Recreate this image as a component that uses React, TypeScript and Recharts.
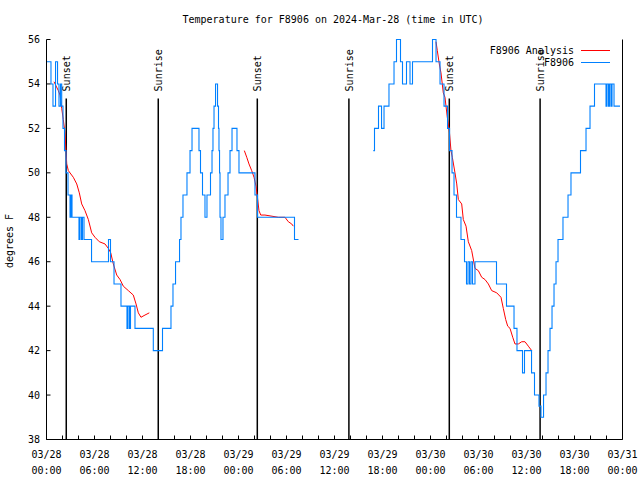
import { LineChart, Line, XAxis, YAxis, ReferenceLine, Legend } from "recharts";

// hours since 03/28 00:00 UTC; observed temps hold until the next change (null = no data)
const blueHours = [
  0, 0.56, 0.81, 1.13, 1.38, 1.56, 1.75, 1.9, 2.06, 2.25, 2.44, 2.69, 2.94, 3.06, 3.19, 4.06, 4.19, 4.38, 4.5, 4.69,
  5.63, 7.75, 8.0, 8.44, 9.31, 10.06, 10.19, 10.38, 10.5, 11.06, 13.35, 14.5, 15.56, 15.81, 16.13, 16.63, 16.81,
  17.06, 17.56, 17.94, 18.19, 19.06, 19.25, 19.5, 19.81, 20.06, 20.5, 20.69, 20.81, 20.94, 21.13, 21.38, 21.5,
  21.56, 21.63, 21.69, 21.81, 22.06, 22.31, 22.69, 22.94, 23.19, 23.81, 24.06, 26.06, 26.38, 31.0, 31.5,
  36,
  40.85, 41.0, 41.5, 41.88, 42.19, 42.81, 43.44, 43.75, 44.25, 44.5, 45.0, 45.44, 45.75, 48.25, 48.69, 49.19,
  49.69, 50.13, 50.38, 50.69, 50.94, 51.25, 51.81, 52.25, 52.5, 52.69, 52.88, 53.06, 53.25, 53.56, 56.25, 57.5,
  58.44, 58.81, 59.5, 59.75, 60.63, 61.0, 61.56, 61.81, 62.13, 62.44, 62.69, 62.94, 63.19, 63.44, 63.69, 63.94,
  64.56, 65.19, 65.56, 66.75, 67.44, 67.94, 68.5, 69.94, 70.06, 70.25, 70.38, 70.56, 70.69, 70.94, 71.69,
];
const blueTemps = [
  55, 54, 53, 55, 54, 53, 54, 53, 52, 51, 50, 49, 48, 49, 48, 47, 48, 47, 48, 47,
  46, 47, 46, 45, 44, 43, 44, 43, 44, 43, 42, 43, 44, 45, 46, 47, 48,
  49, 50, 51, 52, 51, 50, 49, 48, 49, 50, 51, 52, 53, 54, 53, 52,
  51, 50, 48, 47, 48, 49, 50, 51, 52, 51, 50, 49, 48, 47, 47,
  null,
  51, 52, 53, 52, 53, 54, 55, 56, 55, 54, 55, 54, 55, 56, 55, 54,
  53, 52, 51, 50, 49, 48, 47, 46, 45, 46, 45, 46, 45, 46, 45, 44,
  43, 42, 41, 42, 41, 40, 39.5, 39, 40, 41, 42, 43, 44, 45, 46, 47,
  48, 49, 50, 51, 52, 53, 54, 53, 54, 53, 54, 53, 54, 53, 53,
];

// analysis
const redHours = [
  0.94, 1.48, 1.69, 1.9, 2.1, 2.31, 2.53, 2.73, 3.35, 3.78, 4.1, 4.4, 4.81, 5.23, 5.65, 6.06, 6.6, 7.31, 7.73,
  8.03, 8.35, 8.78, 9.19, 9.6, 10.23, 10.85, 11.19, 11.48, 11.81, 12.31, 12.85,
  18,
  24.73, 25.03, 25.31, 25.65, 25.94, 26.19, 26.4, 26.56, 26.78, 27.31, 28.98, 29.81, 30.23, 30.65, 30.85,
  40,
  48.69, 48.85, 49.1, 49.31, 49.6, 49.81, 50.1, 50.35, 50.56, 50.73, 51.06, 51.28, 51.48, 51.9, 52.1, 52.44,
  52.73, 53.15, 53.56, 53.98, 54.4, 54.81, 55.23, 55.65, 56.28, 56.81, 57.1, 57.4, 57.65, 57.94, 58.28, 58.56,
  58.98, 59.4, 59.81, 60.23, 60.65,
];
const redTemps = [
  54.1, 53.7, 53.5, 52.9, 52.4, 51.8, 50.4, 50.1, 49.8, 49.5, 49.1, 48.6, 48.3, 47.9, 47.3, 47.1, 46.9, 46.8, 46.6,
  46.4, 45.9, 45.4, 45.2, 44.9, 44.7, 44.5, 44.1, 43.7, 43.5, 43.6, 43.7,
  null,
  51.0, 50.7, 50.4, 50.1, 49.8, 49.4, 48.8, 48.3, 48.1, 48.1, 48.0, 48.0, 47.8, 47.7, 47.6,
  null,
  55.9, 55.5, 54.9, 54.5, 53.6, 53.4, 52.5, 51.9, 51.0, 50.7, 50.0, 49.5, 48.8, 48.6, 47.9, 47.6,
  46.9, 46.5, 45.7, 45.6, 45.3, 45.2, 45.0, 44.7, 44.6, 44.4, 43.9, 43.4, 43.1, 43.0, 42.6, 42.3,
  42.3, 42.4, 42.4, 42.2, 42.0,
];

const sunHours = [2.47, 13.97, 26.35, 37.8, 50.35, 61.7];
const sunLabels = ["Sunset", "Sunrise", "Sunset", "Sunrise", "Sunset", "Sunrise"];

const xTicks = [0, 2, 4, 6, 8, 10, 12, 14, 16, 18, 20, 22, 24, 26, 28, 30, 32, 34, 36, 38, 40, 42, 44, 46, 48, 50, 52, 54, 56, 58, 60, 62, 64, 66, 68, 70, 72];
const yTicks = [38, 40, 42, 44, 46, 48, 50, 52, 54, 56];

const blueData = blueHours.map((h, i) => ({ h, t: blueTemps[i] }));
const redData = redHours.map((h, i) => ({ h, t: redTemps[i] }));

const FONT = "'DejaVu Sans Mono', monospace";
const BLUE = "#0080ff";
const RED = "#ff0000";

const pad = (n: number) => (n < 10 ? "0" + n : "" + n);

function BottomTick(props: any) {
  const { x, y, payload } = props;
  const h = payload.value;
  const day = 28 + Math.floor(h / 24);
  return (
    <g>
      <line x1={x} y1={y} x2={x} y2={y - 4} stroke="#000" />
      {h % 6 === 0 && (
        <text x={x} y={y + 18} textAnchor="middle" fontFamily={FONT} fontSize={10} fill="#000">
          <tspan x={x}>{"03/" + day}</tspan>
          <tspan x={x} dy={16}>{pad(h % 24) + ":00"}</tspan>
        </text>
      )}
    </g>
  );
}

function TopTick(props: any) {
  const { x, y } = props;
  return <line x1={x} y1={y} x2={x} y2={y + 4} stroke="#000" />;
}

function LeftTick(props: any) {
  const { x, y, payload } = props;
  return (
    <g>
      <line x1={x} y1={y} x2={x + 4} y2={y} stroke="#000" />
      <text x={x - 6.5} y={y + 3.5} textAnchor="end" fontFamily={FONT} fontSize={10} fill="#000">
        {payload.value}
      </text>
    </g>
  );
}

function RightTick(props: any) {
  const { x, y } = props;
  return <line x1={x} y1={y} x2={x - 4} y2={y} stroke="#000" />;
}

function SunLabel(props: any) {
  const { viewBox, text } = props;
  const x = viewBox.x + 4;
  const y = viewBox.y - 7;
  return (
    <text x={x} y={y} transform={`rotate(-90 ${x} ${y})`} fontFamily={FONT} fontSize={10} fill="#000">
      {text}
    </text>
  );
}

function LegendBox() {
  const row = (label: string, color: string) => (
    <div style={{ display: "flex", alignItems: "center", justifyContent: "flex-end", height: 12.5 }}>
      <span>{label}</span>
      <span style={{ display: "inline-block", width: 29, height: 1, background: color, marginLeft: 7 }} />
    </div>
  );
  return (
    <div style={{ fontFamily: FONT, fontSize: 10, color: "#000", textAlign: "right" }}>
      {row("F8906 Analysis", RED)}
      {row("F8906", BLUE)}
    </div>
  );
}

export default function App() {
  return (
    <div style={{ position: "absolute", left: 0, top: 0, width: 640, height: 480, background: "#fff" }}>
      <div
        style={{
          position: "absolute", left: 333, top: 14, transform: "translateX(-50%)", whiteSpace: "nowrap",
          fontFamily: FONT, fontSize: 10, lineHeight: "12px",
        }}
      >
        Temperature for F8906 on 2024-Mar-28 (time in UTC)
      </div>
      <div
        style={{
          position: "absolute", left: 10, top: 241, transform: "translate(-50%, -50%) rotate(-90deg)",
          whiteSpace: "nowrap", fontFamily: FONT, fontSize: 10, lineHeight: "12px",
        }}
      >
        degrees F
      </div>
      <LineChart width={640} height={480} margin={{ top: 39.5, right: 0, bottom: 0, left: 0 }}>
        <XAxis
          dataKey="h" type="number" domain={[0, 72]} ticks={xTicks} interval={0}
          height={40.5} tickSize={0} tickMargin={0} tickLine={false}
          axisLine={{ stroke: "#000" }} tick={<BottomTick />}
        />
        <XAxis
          xAxisId="top" orientation="top" dataKey="h" type="number" domain={[0, 72]} ticks={xTicks} interval={0}
          height={0} tickSize={0} tickMargin={0} tickLine={false}
          axisLine={{ stroke: "#000" }} tick={<TopTick />}
        />
        <YAxis
          type="number" domain={[38, 56]} ticks={yTicks} interval={0} width={46.5}
          tickSize={0} tickMargin={0} tickLine={false} axisLine={{ stroke: "#000" }} tick={<LeftTick />}
        />
        <YAxis
          yAxisId="right" orientation="right" type="number" domain={[38, 56]} ticks={yTicks} interval={0} width={17.5}
          tickSize={0} tickMargin={0} tickLine={false} axisLine={{ stroke: "#000" }} tick={<RightTick />}
        />
        {sunHours.map((h, i) => (
          <ReferenceLine
            key={i}
            segment={[{ x: h, y: 38 }, { x: h, y: 53.35 }]}
            stroke="#000"
            strokeWidth={1.5}
            label={(p: any) => <SunLabel {...p} text={sunLabels[i]} />}
          />
        ))}
        <Line
          data={redData} dataKey="t" name="F8906 Analysis" type="linear" stroke={RED} strokeWidth={1}
          dot={false} activeDot={false} connectNulls={false} isAnimationActive={false}
        />
        <Line
          data={blueData} dataKey="t" name="F8906" type="stepAfter" stroke={BLUE} strokeWidth={1.1}
          dot={false} activeDot={false} connectNulls={false} isAnimationActive={false}
        />
        <Legend
          layout="horizontal" verticalAlign="middle" align="center"
          wrapperStyle={{ top: 44, left: 470, width: 140, height: 26 }}
          content={() => <LegendBox />}
        />
      </LineChart>
    </div>
  );
}
